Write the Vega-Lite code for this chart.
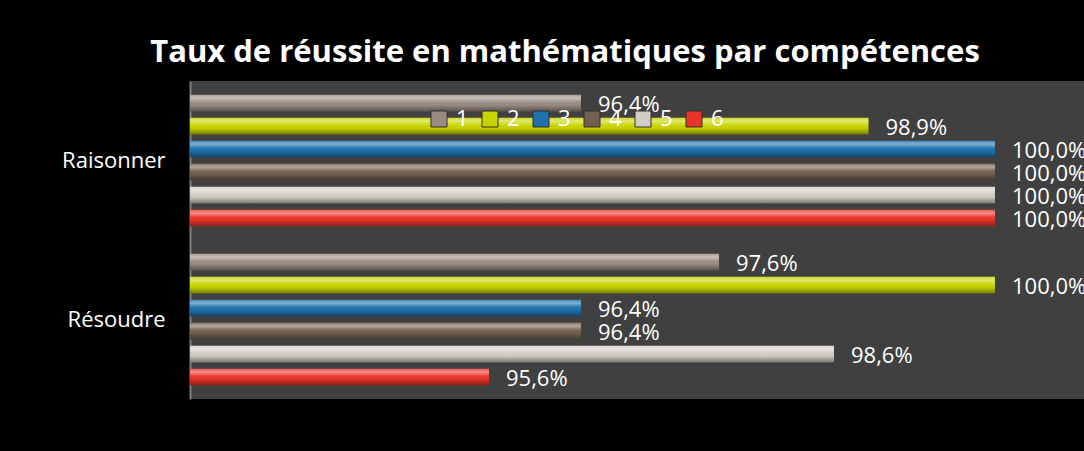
{
  "$schema": "https://vega.github.io/schema/vega-lite/v6.json",
  "width": 894,
  "height": 318,
  "padding": {"left": 0, "top": 37, "right": 0, "bottom": 53},
  "background": "black",
  "title": {
    "text": "Taux de réussite en mathématiques par compétences",
    "color": "white",
    "font": "Open Sans",
    "fontSize": 31,
    "fontWeight": "bold",
    "anchor": "middle",
    "frame": "group",
    "dx": -72,
    "offset": 12
  },
  "data": {
    "values": [
      {"competence": "Raisonner", "serie": "1", "taux": 0.964},
      {"competence": "Raisonner", "serie": "2", "taux": 0.989},
      {"competence": "Raisonner", "serie": "3", "taux": 1.0},
      {"competence": "Raisonner", "serie": "4", "taux": 1.0},
      {"competence": "Raisonner", "serie": "5", "taux": 1.0},
      {"competence": "Raisonner", "serie": "6", "taux": 1.0},
      {"competence": "Résoudre", "serie": "1", "taux": 0.976},
      {"competence": "Résoudre", "serie": "2", "taux": 1.0},
      {"competence": "Résoudre", "serie": "3", "taux": 0.964},
      {"competence": "Résoudre", "serie": "4", "taux": 0.964},
      {"competence": "Résoudre", "serie": "5", "taux": 0.986},
      {"competence": "Résoudre", "serie": "6", "taux": 0.956}
    ]
  },
  "encoding": {
    "y": {
      "field": "competence",
      "type": "nominal",
      "sort": ["Raisonner", "Résoudre"],
      "scale": {"paddingInner": 0, "paddingOuter": 0},
      "axis": {
        "title": null,
        "ticks": false,
        "domainColor": "#808080",
        "domainWidth": 2,
        "labelColor": "white",
        "labelFont": "Open Sans",
        "labelFontSize": 22,
        "labelPadding": 25,
        "minExtent": 190,
        "maxExtent": 190
      }
    },
    "yOffset": {
      "field": "serie",
      "type": "nominal",
      "sort": ["1", "2", "3", "4", "5", "6"],
      "scale": {"paddingInner": 0.28, "paddingOuter": 0.6}
    },
    "x": {
      "field": "taux",
      "type": "quantitative",
      "scale": {"domain": [0.93, 1.00774], "nice": false, "zero": false},
      "axis": null
    }
  },
  "layer": [
    {
      "mark": {"type": "bar", "clip": true},
      "encoding": {
        "x2": {"datum": 0.93},
        "color": {
          "field": "serie",
          "type": "nominal",
          "scale": {
            "domain": ["1", "2", "3", "4", "5", "6"],
            "range": ["#9a8c82", "#c8d400", "#1f72ad", "#736050", "#d2ccc4", "#e8352a"]
          },
          "legend": {
            "title": null,
            "orient": "none",
            "direction": "horizontal",
            "legendX": 238,
            "legendY": 27,
            "symbolType": "square",
            "symbolSize": 256,
            "symbolStrokeColor": "#303030",
            "symbolStrokeWidth": 1,
            "symbolOpacity": 1,
            "labelColor": "white",
            "labelFont": "Open Sans",
            "labelFontSize": 22,
            "labelOffset": 6,
            "columnPadding": 10
          }
        }
      }
    },
    {
      "mark": {
        "type": "bar",
        "clip": true,
        "color": {
          "gradient": "linear",
          "x1": 0, "y1": 0, "x2": 0, "y2": 1,
          "stops": [
            {"offset": 0, "color": "rgba(255,255,255,0.15)"},
            {"offset": 0.2, "color": "rgba(255,255,255,0.45)"},
            {"offset": 0.45, "color": "rgba(255,255,255,0.05)"},
            {"offset": 0.6, "color": "rgba(0,0,0,0)"},
            {"offset": 1, "color": "rgba(0,0,0,0.4)"}
          ]
        }
      },
      "encoding": {"x2": {"datum": 0.93}}
    },
    {
      "mark": {
        "type": "text",
        "align": "left",
        "baseline": "middle",
        "dx": 17,
        "dy": 2,
        "color": "white",
        "font": "Open Sans",
        "fontSize": 22
      },
      "encoding": {
        "text": {"field": "taux", "type": "quantitative", "format": ".1%"}
      }
    }
  ],
  "config": {
    "view": {"fill": "#404040", "stroke": null},
    "locale": {
      "number": {
        "decimal": ",",
        "thousands": " ",
        "grouping": [3],
        "currency": ["", " €"]
      }
    }
  }
}
